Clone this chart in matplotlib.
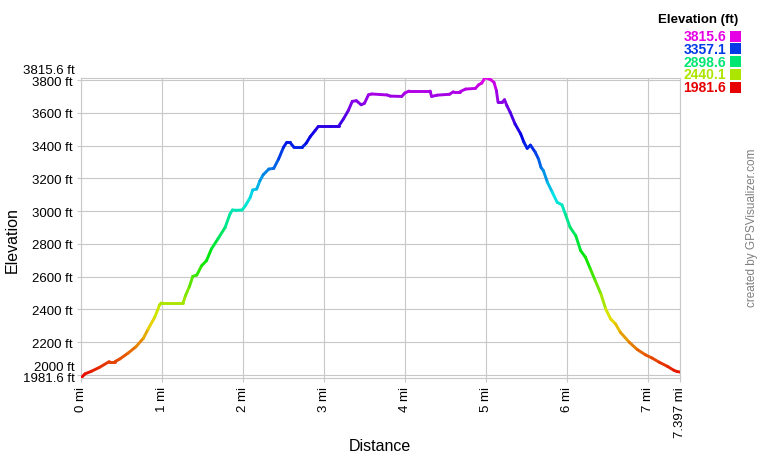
import numpy as np
import matplotlib
matplotlib.use("Agg")
import matplotlib.pyplot as plt
from matplotlib.collections import LineCollection
from matplotlib.colors import hsv_to_rgb
from matplotlib.transforms import offset_copy

plt.rcParams['font.family'] = ['Liberation Sans', 'DejaVu Sans']

# profile: distance (mi) and elevation (ft)
dist_mi = [0.00, 0.05, 0.13, 0.23, 0.35, 0.42, 0.48, 0.58, 0.68, 0.77,
           0.83, 0.91, 0.97, 0.99, 1.26, 1.29, 1.34, 1.38, 1.43, 1.49,
           1.55, 1.61, 1.69, 1.78, 1.84, 1.87, 1.92, 1.99, 2.03, 2.09,
           2.12, 2.17, 2.21, 2.25, 2.32, 2.38, 2.44, 2.50, 2.54, 2.58,
           2.63, 2.73, 2.78, 2.83, 2.89, 2.93, 3.08, 3.18, 3.24, 3.30,
           3.35, 3.40, 3.46, 3.50, 3.55, 3.59, 3.78, 3.82, 3.96, 4.00,
           4.05, 4.31, 4.33, 4.40, 4.55, 4.60, 4.68, 4.75, 4.87, 4.91,
           4.95, 4.99, 5.06, 5.10, 5.13, 5.15, 5.20, 5.23, 5.26, 5.30,
           5.36, 5.43, 5.47, 5.51, 5.55, 5.61, 5.65, 5.68, 5.71, 5.76,
           5.82, 5.88, 5.94, 5.98, 6.04, 6.11, 6.17, 6.23, 6.29, 6.35,
           6.42, 6.48, 6.54, 6.60, 6.66, 6.77, 6.87, 6.97, 7.05, 7.14,
           7.24, 7.32, 7.36, 7.397]
elev_ft = [1981.6, 2007, 2023, 2047, 2082, 2082, 2098, 2133, 2173, 2224,
           2281, 2352, 2427, 2440, 2440, 2484, 2541, 2602, 2610, 2667,
           2698, 2769, 2830, 2901, 2983, 3007, 3005, 3007, 3033, 3084,
           3129, 3135, 3186, 3222, 3257, 3261, 3318, 3389, 3420, 3420,
           3389, 3389, 3414, 3454, 3491, 3517, 3517, 3517, 3562, 3613,
           3670, 3674, 3649, 3658, 3710, 3715, 3709, 3702, 3700, 3721,
           3733, 3733, 3700, 3708, 3713, 3729, 3729, 3745, 3749, 3771,
           3782, 3815.6, 3802, 3786, 3735, 3664, 3664, 3680, 3643, 3603,
           3532, 3471, 3420, 3383, 3403, 3359, 3318, 3267, 3247, 3176,
           3115, 3054, 3038, 2983, 2901, 2850, 2759, 2718, 2647, 2576,
           2495, 2403, 2342, 2312, 2261, 2200, 2155, 2123, 2104, 2078,
           2053, 2029, 2021, 2018]

elev_min, elev_max = 1981.6, 3815.6
total_mi = 7.397
x_ticks = [0, 1, 2, 3, 4, 5, 6, 7, 7.397]
x_labels = ["0 mi", "1 mi", "2 mi", "3 mi", "4 mi", "5 mi", "6 mi", "7 mi", "7.397 mi"]
y_ticks = [2000, 2200, 2400, 2600, 2800, 3000, 3200, 3400, 3600, 3800]
legend_vals = [3815.6, 3357.1, 2898.6, 2440.1, 1981.6]


def elev_color(e):
    # red at the bottom, through yellow/green/blue up to magenta at the top
    f = (e - elev_min) / (elev_max - elev_min)
    return hsv_to_rgb([f * 300 / 360, 1.0, 0.9])


fig = plt.figure(figsize=(7.6, 4.6), dpi=100)
ax = fig.add_axes([81 / 760, 1 - 379 / 460, (680 - 81) / 760, (379 - 78.5) / 460])

grid_c = '#c8c8c8'
x = np.array(dist_mi)
y = np.array(elev_ft)
segs = np.stack([np.column_stack([x[:-1], y[:-1]]), np.column_stack([x[1:], y[1:]])], axis=1)
cols = [elev_color((a + b) / 2) for a, b in zip(y[:-1], y[1:])]
lc = LineCollection(segs, colors=cols, linewidths=2.1, capstyle='round', joinstyle='round', zorder=3)
ax.add_collection(lc)

ax.set_xlim(0, total_mi)
ax.set_ylim(elev_min, elev_max)
ax.set_xticks(x_ticks)
ax.set_xticklabels(x_labels, rotation=90, va='top', fontsize=9.5)
ax.set_yticks(y_ticks)
ax.set_yticklabels([""] + [f"{v} ft" for v in y_ticks[1:]], fontsize=9.5)
ax.grid(True, color=grid_c, linewidth=0.8, zorder=0)
ax.tick_params(length=3, color=grid_c, pad=3)
for s in ax.spines.values():
    s.set_color(grid_c)
    s.set_linewidth(0.8)

# end labels on the elevation axis, nudged like the original
tr_up = offset_copy(ax.get_yaxis_transform(), fig=fig, x=-6, y=8, units='dots')
tr = offset_copy(ax.get_yaxis_transform(), fig=fig, x=-6, y=0, units='dots')
ax.text(0, 2000, "2000 ft", transform=tr_up, ha='right', va='center', fontsize=9.5)
ax.text(0, elev_max, f"{elev_max} ft", transform=tr_up, ha='right', va='center', fontsize=9.5)
ax.text(0, elev_min, f"{elev_min} ft", transform=tr, ha='right', va='center', fontsize=9.5)

fig.text(12 / 760, 1 - 240 / 460, "Elevation", rotation=90, ha='center', va='center', fontsize=11.5)
fig.text(380 / 760, 1 - 447 / 460, "Distance", ha='center', va='center', fontsize=11.5)
fig.text(752 / 760, 1 - 228 / 460, "created by GPSVisualizer.com", rotation=90,
         ha='center', va='center', fontsize=8.5, color='#808080')

# colour legend
fig.text(738 / 760, 1 - 20 / 460, "Elevation (ft)", ha='right', va='center',
         fontsize=9.5, fontweight='bold')
for i, v in enumerate(legend_vals):
    yy = 1 - (37 + i * 12.8) / 460
    c = elev_color(v)
    fig.text(726 / 760, yy, f"{v}", ha='right', va='center', fontsize=10,
             fontweight='bold', color=c)
    fig.patches.append(plt.Rectangle((730 / 760, yy - 5.5 / 460), 11 / 760, 11 / 460,
                                     transform=fig.transFigure, facecolor=c,
                                     edgecolor='none', figure=fig))

fig.savefig("out.png", dpi=100)
